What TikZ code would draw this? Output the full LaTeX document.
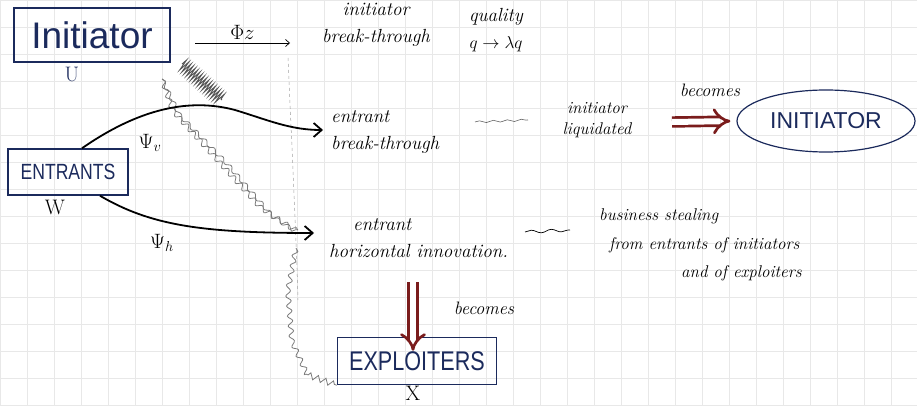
\documentclass[tikz,border=0pt]{standalone}
\usepackage{fontspec}
\newfontfamily\capsnarrow[FakeStretch=0.8]{Liberation Sans}
\newfontfamily\capswide{Liberation Sans}
\usetikzlibrary{arrows.meta,decorations.pathmorphing,shapes.geometric,calc}
\definecolor{ink}{HTML}{1B2A5C}
\definecolor{redink}{HTML}{7A1C1C}
\definecolor{pencil}{HTML}{7A7A7A}
\definecolor{gridc}{HTML}{E8E8E8}
\begin{document}
\begin{tikzpicture}[x=1pt,y=-1pt,
  note/.style={font=\fontsize{19}{27}\selectfont\itshape, align=center, inner sep=1pt},
  sym/.style={font=\fontsize{21}{23}\selectfont, inner sep=1pt},
  capbox/.style={draw=ink, line width=1.5pt, text=ink, rectangle, inner sep=2pt},
  strong/.style={line width=1.8pt, -{Straight Barb[length=8pt,width=14pt]}},
  wavy/.style={pencil, line width=0.8pt, decorate, decoration={snake, segment length=10pt, amplitude=2.5pt}},
  spring/.style={pencil!70!black, line width=0.9pt, decorate, decoration={zigzag, segment length=3pt, amplitude=6pt}},
  fat/.style={redink, line width=2.7pt, double=white, double distance=6pt, -{Implies}}
]
\useasboundingbox (0,0) rectangle (917,406);
\draw[gridc, step=27pt] (0,0) grid (917,406);

% nodes
\node[capbox, minimum width=156, minimum height=54, font=\capswide\fontsize{37}{39}\selectfont] (ini) at (92,35) {Initiator};
\node[sym, text=ink] (U) at (72,74) {U};
\node[note] (ibt) at (376,25) {initiator\\break-through};
\node[note] (qual) at (496,30) {quality\\$q\to\lambda q$};
\node[capbox, minimum width=120, minimum height=46, font=\capsnarrow\fontsize{22}{24}\selectfont] (ent) at (68,172) {ENTRANTS};
\node[sym] (W) at (55,207) {W};
\node[note, align=left, anchor=west] (ebt) at (330,132) {entrant\\break-through};
\node[note, font=\fontsize{17}{21}\selectfont\itshape] (liq) at (597,120) {initiator\\liquidated};
\node[note, font=\fontsize{18}{20}\selectfont\itshape] (bec1) at (710,90) {becomes};
\node[ellipse, draw=ink, line width=1.2pt, text=ink, minimum width=178, minimum height=62, font=\capswide\fontsize{23}{25}\selectfont] (INI) at (826,121) {INITIATOR};
\node[note, align=left, anchor=west] (ehi) at (328,238) {\hspace*{24pt}entrant\\horizontal innovation.};
\node[note, font=\fontsize{17}{28}\selectfont\itshape, align=left, anchor=north west] (bs) at (598,208) {business stealing\\\hspace*{10pt}from entrants of initiators\\\hspace*{82pt}and of exploiters};
\node[note, font=\fontsize{18}{20}\selectfont\itshape] (bec2) at (484,308) {becomes};
\node[capbox, minimum width=159, minimum height=47, font=\capsnarrow\fontsize{27}{29}\selectfont] (exp) at (417,361) {EXPLOITERS};
\node[sym] (X) at (413,393) {X};

% Phi z arrow
\coordinate (phiA) at (195,43);
\coordinate (phiB) at (290,43);
\draw[line width=0.7pt, -{Straight Barb[length=4pt,width=7pt]}] (phiA) -- node[sym, above=2pt] {$\Phi z$} (phiB);

% pencil dashed vertical
\coordinate (vA) at (288,58);
\coordinate (vB) at (298,300);
\draw[pencil!70, dashed, line width=0.5pt] (vA) .. controls (292,150) and (296,230) .. (vB);

% gray wavy lines
\coordinate (sA) at (182,64);
\coordinate (sB) at (222,100);
\draw[spring] (sA) -- (sB);
\coordinate (w1) at (162,79);
\coordinate (w2) at (298,230);
\draw[wavy] (w1) -- (172,108) -- (210,150) -- (260,205) -- (w2);
\draw[wavy, decoration={snake, segment length=12pt, amplitude=2pt}] (w1) -- (178,112) -- (225,160) -- (270,212) -- (w2);
\coordinate (w3) at (296,248);
\draw[wavy] (w3) -- (288,290) -- (292,340) -- (308,375);
\draw[pencil, line width=0.8pt, decorate, decoration={zigzag, segment length=8pt, amplitude=3pt}] (308,375) -- (exp.south west);

% strong arrows
\draw[strong] ($(ent.north)+(14,0)$) .. controls (140,108) and (190,98) .. (235,110) .. controls (268,120) and (290,130) .. ($(ebt.west)+(-7,-2)$);
\node[sym] (psiv) at (150,143) {$\Psi_v$};
\draw[strong] ($(ent.south)+(32,0)$) .. controls (150,225) and (200,233) .. ($(ehi.west)+(-14,-5)$);
\node[sym] (psih) at (162,243) {$\Psi_h$};

% tilde connectors
\coordinate (t1) at (475,122);
\coordinate (t2) at (528,120);
\draw[pencil!80!black, line width=0.6pt, decorate, decoration={snake, segment length=14pt, amplitude=1pt}] (t1) -- (t2);
\coordinate (t3) at (525,232);
\coordinate (t4) at (570,230);
\draw[line width=0.7pt, decorate, decoration={snake, segment length=20pt, amplitude=1.5pt}] (t3) -- (t4);

% red double arrows
\coordinate (r1) at (672,122);
\draw[fat, shorten >=6pt] (r1) -- (INI.west);
\coordinate (r2) at (413,282);
\draw[fat] (r2) -- ($(exp.north -| r2)+(0,14)$);
\end{tikzpicture}
\end{document}
